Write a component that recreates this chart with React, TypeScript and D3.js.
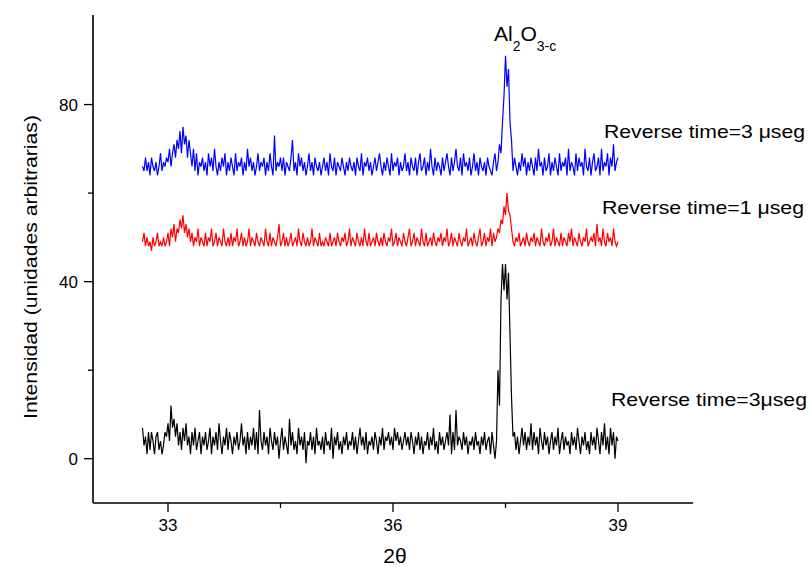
import React from "react";
import * as d3 from "d3";

// 2θ sampling grid: first and last angle of each scan
const thetaStart = 32.66;
const thetaEnd = 39.0;

// Bottom trace (black) – Reverse time=3µseg
const blackSeries = [
  7,3,5,1,6,2,6,4,1,5,6,2,4,1,3,6,5,8,4,12,
  7,9,5,8,3,6,2,7,4,8,3,5,1,6,3,7,2,4,6,1,
  5,3,6,2,4,7,1,5,3,6,2,8,4,1,5,3,7,2,6,4,
  1,5,3,6,2,4,8,3,5,1,6,2,5,3,7,2,6,1,11,4,
  2,6,3,5,1,7,4,2,6,3,5,0,4,7,2,5,3,1,9,3,
  6,2,4,1,7,3,5,2,6,-1,4,3,6,2,5,1,7,3,4,2,
  5,1,6,3,4,2,7,0,5,3,6,2,4,1,5,3,6,2,4,3,
  6,2,5,1,4,7,3,5,2,6,1,4,3,5,2,6,4,1,5,3,
  7,2,5,4,6,3,5,2,7,4,6,3,5,2,4,6,3,5,2,6,
  4,1,5,3,6,2,5,1,4,3,6,2,5,3,7,2,4,1,6,3,
  5,2,4,6,3,10,1,6,2,11,3,5,4,2,6,3,5,1,4,3,
  5,2,6,3,4,1,5,3,6,2,4,5,1,6,3,0,
  4,20,12,36,44,38,44,36,42,28,14,5,
  6,2,5,1,4,7,3,6,2,5,3,8,
  2,6,3,5,1,7,4,2,6,3,5,1,4,6,2,5,3,7,1,4,
  6,2,5,3,4,1,6,3,5,2,7,4,1,5,3,6,2,4,1,6,
  3,5,2,7,4,1,6,3,8,2,5,1,7,3,6,0,5,4,
];

// Middle trace (red) – Reverse time=1 µseg
const redSeries = [
  49,51,48,50,48,49,47,50,48,49,51,48,49,48,50,48,49,51,48,52,
  50,53,49,52,51,54,52,55,51,53,50,52,49,51,48,50,49,52,48,50,
  49,48,51,48,50,49,52,48,49,51,48,50,49,48,52,49,48,50,48,51,
  48,50,49,52,48,49,51,48,50,48,49,52,48,50,49,48,51,49,48,50,
  49,48,52,49,48,51,48,50,49,48,50,53,48,49,51,48,50,48,49,51,
  48,49,50,48,52,49,48,51,49,48,50,48,49,52,48,50,49,48,51,48,
  49,48,50,49,48,51,48,49,50,48,51,49,48,50,49,51,48,49,52,48,
  50,49,48,51,49,48,50,48,52,49,48,51,48,49,50,48,51,49,48,50,
  48,51,49,48,50,49,52,48,49,51,48,50,49,48,51,49,48,50,52,48,
  49,51,48,50,49,48,52,49,48,51,48,49,50,48,51,49,48,50,49,51,
  48,50,49,52,48,49,51,48,50,49,48,51,49,48,50,49,52,48,49,50,
  48,51,49,48,50,52,48,49,51,48,50,49,52,48,51,49,
  50,52,51,54,53,57,55,60,56,55,52,49,
  48,50,49,51,48,49,50,48,51,49,48,50,
  49,51,48,50,49,48,52,49,48,50,49,51,48,49,52,48,50,49,48,51,
  48,50,49,48,51,49,52,48,50,49,48,51,49,48,50,49,52,48,49,50,
  49,51,48,53,49,50,48,52,49,48,51,49,50,48,52,49,48,49,
];

// Top trace (blue) – Reverse time=3 µseg
const blueSeries = [
  66,65,68,65,67,64,68,66,65,67,64,66,69,65,67,66,68,67,70,66,
  69,71,68,72,70,74,69,75,71,73,68,72,69,66,70,65,69,64,67,66,
  68,65,67,64,69,66,68,65,70,66,64,67,65,68,66,69,64,67,65,68,
  66,64,69,65,67,66,68,64,67,65,70,66,68,65,67,64,66,69,65,67,
  66,68,64,67,65,69,66,64,73,65,67,66,68,65,68,64,67,66,65,68,
  72,65,67,64,69,66,68,65,67,64,66,69,65,67,64,68,66,65,67,64,
  66,68,65,67,64,69,66,65,68,64,67,66,65,68,66,64,67,65,68,66,
  65,67,64,68,66,65,69,64,67,66,68,65,67,64,66,68,65,67,69,66,
  64,67,65,68,66,64,69,65,67,66,68,64,67,65,66,69,65,67,64,68,
  66,65,68,64,67,69,65,66,68,64,67,65,70,66,64,68,65,67,66,64,
  68,65,67,69,66,64,68,65,67,70,66,65,68,64,69,66,67,65,68,64,
  66,69,65,67,64,68,66,65,67,64,68,66,65,64,67,69,
  65,67,71,69,76,82,91,84,88,76,72,65,
  68,66,64,67,65,69,66,68,64,67,65,68,
  66,64,68,65,70,66,67,64,68,65,66,69,64,67,65,68,66,64,69,65,
  67,66,68,64,70,65,67,66,64,69,65,68,66,67,64,70,66,65,68,64,
  67,69,65,66,68,64,70,65,67,66,69,64,68,66,71,65,67,68,
];

const xMajorTicks = [33, 36, 39];
const xMinorTicks = [34.5, 37.5];
const yMajorTicks = [0, 40, 80];
const yMinorTicks = [20, 60];

const W = 811;
const H = 567;
const FONT = "'Liberation Sans', Arial, sans-serif";

export default function App() {
  const x = d3.scaleLinear().domain([32, 40]).range([93, 693]);
  const y = d3.scaleLinear().domain([-10, 100]).range([503, 16]);

  const toPts = (vals: number[]) => {
    const step = (thetaEnd - thetaStart) / (vals.length - 1);
    return vals.map((v, i) => [thetaStart + i * step, v] as [number, number]);
  };
  const line = d3
    .line<[number, number]>()
    .x((d) => x(d[0]))
    .y((d) => y(d[1]));

  const series = [
    { vals: blackSeries, color: "#000000" },
    { vals: redSeries, color: "#ff0000" },
    { vals: blueSeries, color: "#0000ff" },
  ];

  const x0 = x.range()[0];
  const y0 = y.range()[0];

  return (
    <svg
      width={W}
      height={H}
      style={{ position: "absolute", left: 0, top: 0, background: "#fff" }}
      fontFamily={FONT}
    >
      <rect x={0} y={0} width={W} height={H} fill="#fff" />
      {series.map((s, k) => (
        <path
          key={k}
          d={line(toPts(s.vals)) || ""}
          fill="none"
          stroke={s.color}
          strokeWidth={1.2}
          strokeLinejoin="miter"
        />
      ))}
      {/* axes */}
      <line x1={x0} x2={x0} y1={y(100) - 1} y2={y0} stroke="#000" strokeWidth={1.6} />
      <line x1={x0} x2={x(40)} y1={y0} y2={y0} stroke="#000" strokeWidth={1.6} />
      {xMajorTicks.map((t) => (
        <g key={"xm" + t}>
          <line x1={x(t)} x2={x(t)} y1={y0} y2={y0 + 9} stroke="#000" strokeWidth={1.3} />
          <text x={x(t)} y={531} textAnchor="middle" fontSize={17}>
            {t}
          </text>
        </g>
      ))}
      {xMinorTicks.map((t) => (
        <line key={"xn" + t} x1={x(t)} x2={x(t)} y1={y0} y2={y0 + 5} stroke="#000" strokeWidth={1.3} />
      ))}
      {yMajorTicks.map((t) => (
        <g key={"ym" + t}>
          <line x1={x0 - 9} x2={x0} y1={y(t)} y2={y(t)} stroke="#000" strokeWidth={1.3} />
          <text x={78} y={y(t) + 6} textAnchor="end" fontSize={17}>
            {t}
          </text>
        </g>
      ))}
      {yMinorTicks.map((t) => (
        <line key={"yn" + t} x1={x0 - 5} x2={x0} y1={y(t)} y2={y(t)} stroke="#000" strokeWidth={1.3} />
      ))}
      {/* axis titles */}
      <text
        transform="translate(37,267) rotate(-90)"
        textAnchor="middle"
        fontSize={18}
        textLength={304}
        lengthAdjust="spacingAndGlyphs"
      >
        Intensidad (unidades arbitrarias)
      </text>
      <text x={395} y={563} textAnchor="middle" fontSize={21}>
        2θ
      </text>
      {/* annotations */}
      <text x={494} y={41} fontSize={21}>
        Al<tspan fontSize={14} dy={10}>2</tspan>
        <tspan dy={-10}>O</tspan>
        <tspan fontSize={14} dy={10}>3-c</tspan>
      </text>
      <text x={604} y={138} fontSize={19} textLength={201} lengthAdjust="spacingAndGlyphs">
        Reverse time=3 μseg
      </text>
      <text x={602} y={214} fontSize={19} textLength={202} lengthAdjust="spacingAndGlyphs">
        Reverse time=1 μseg
      </text>
      <text x={611} y={406} fontSize={19} textLength={196} lengthAdjust="spacingAndGlyphs">
        Reverse time=3μseg
      </text>
    </svg>
  );
}
